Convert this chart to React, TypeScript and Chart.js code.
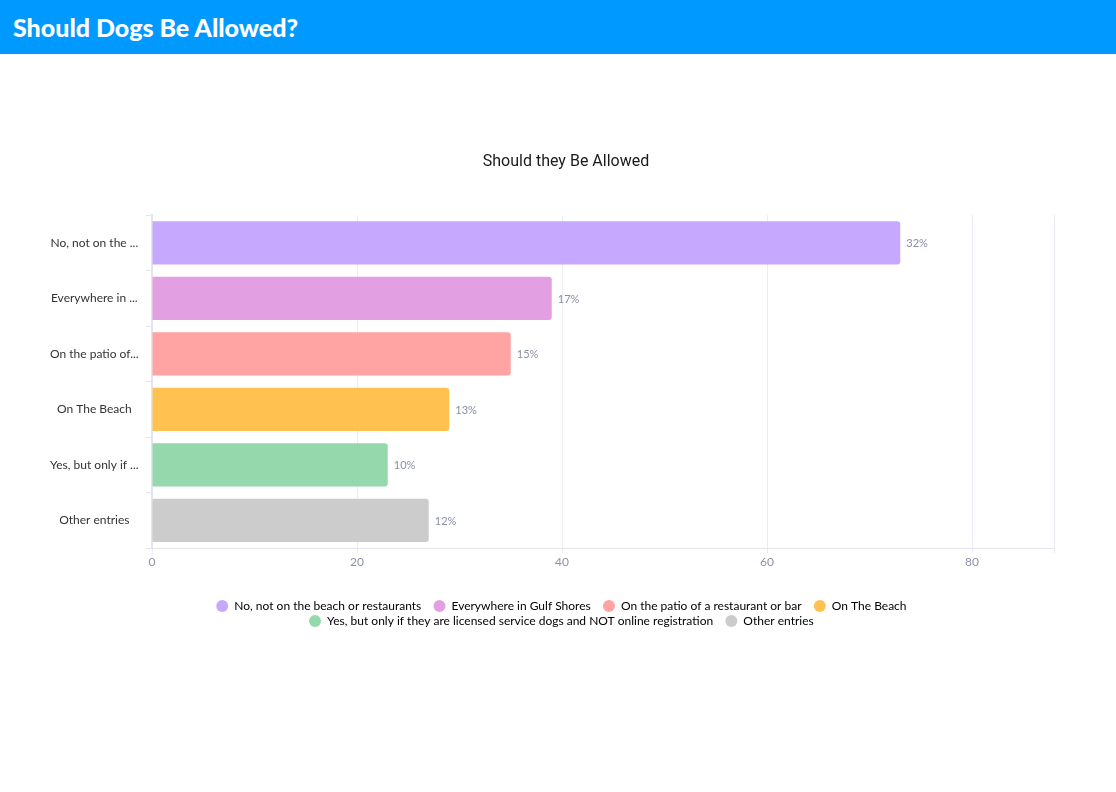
import { useEffect, useRef } from "react";
import { Chart, registerables } from "chart.js";

Chart.register(...registerables);

// data
const categories: string[] = [
    "No, not on the beach or restaurants",
    "Everywhere in Gulf Shores",
    "On the patio of a restaurant or bar",
    "On The Beach",
    "Yes, but only if they are licensed service dogs and NOT online registration",
    "Other entries",
];
const shortLabels: string[] = [
    "No, not on the ...",
    "Everywhere in ...",
    "On the patio of...",
    "On The Beach",
    "Yes, but only if ...",
    "Other entries",
];
const counts: number[] = [73, 39, 35, 29, 23, 27];
const percentLabels: string[] = ["32%", "17%", "15%", "13%", "10%", "12%"];
const barColors: string[] = ["#c6a9fe", "#e2a0e3", "#ffa3a3", "#ffc14f", "#94d8ac", "#cccccc"];
const xTicks: number[] = [0, 20, 40, 60, 80, 88];

const FONT = "Lato, 'Noto Sans', sans-serif";

// draws the "32%" style labels next to each bar
const barValueLabels = {
    id: "barValueLabels",
    afterDatasetsDraw(chart: Chart) {
        const ctx = chart.ctx;
        const meta = chart.getDatasetMeta(0);
        ctx.save();
        ctx.font = `11px ${FONT}`;
        ctx.fillStyle = "#8a8fa4";
        ctx.textAlign = "left";
        ctx.textBaseline = "middle";
        meta.data.forEach((bar: any, i: number) => {
            ctx.fillText(percentLabels[i], bar.x + 6, bar.y + 1);
        });
        ctx.restore();
    },
};

export default function App() {
    const canvasRef = useRef<HTMLCanvasElement | null>(null);

    useEffect(() => {
        document.body.style.margin = "0";
        const ctx = canvasRef.current?.getContext("2d");
        if (!ctx) return;

        const chart = new Chart(ctx, {
            type: "bar",
            data: {
                labels: shortLabels,
                datasets: [
                    {
                        data: counts,
                        backgroundColor: barColors,
                        borderRadius: 3,
                        barPercentage: 0.78,
                        categoryPercentage: 1,
                    },
                ],
            },
            options: {
                indexAxis: "y",
                animation: false,
                responsive: true,
                maintainAspectRatio: false,
                layout: { padding: { left: 78, right: 62, top: 0, bottom: 155 } },
                scales: {
                    x: {
                        min: 0,
                        max: 88,
                        afterBuildTicks: (scale: any) => {
                            scale.ticks = xTicks.map((v) => ({ value: v }));
                        },
                        afterFit: (scale: any) => {
                            scale.height = 49;
                        },
                        ticks: {
                            color: "#8c93a7",
                            font: { family: FONT, size: 12 },
                            padding: 2,
                            callback: (v: any) => (Number(v) % 20 === 0 ? String(v) : ""),
                        },
                        grid: { color: "#ebebf1", tickLength: 5 },
                        border: { color: "#e4e4ec" },
                    },
                    y: {
                        afterFit: (scale: any) => {
                            scale.width = 74;
                        },
                        ticks: {
                            color: "#333333",
                            font: { family: FONT, size: 12 },
                            crossAlign: "center",
                            // mirrored with a negative padding so the labels sit left of the axis unclipped
                            mirror: true,
                            padding: -102,
                        },
                        grid: { drawOnChartArea: false, color: "#e4e4ec", tickLength: 6 },
                        border: { color: "#e4e4ec", width: 2 },
                    },
                },
                plugins: {
                    title: {
                        display: true,
                        text: "Should they Be Allowed",
                        color: "#1a1a1a",
                        font: { family: "Roboto, sans-serif", size: 16, weight: "normal" },
                        padding: { top: 98, bottom: 44 },
                    },
                    legend: {
                        position: "bottom",
                        labels: {
                            usePointStyle: true,
                            pointStyle: "circle",
                            pointStyleWidth: 12,
                            boxHeight: 8.5,
                            padding: 3,
                            color: "#333333",
                            font: { family: FONT, size: 12 },
                            generateLabels: () =>
                                categories.map((c, i) => ({
                                    text: c + "   ",
                                    fillStyle: barColors[i],
                                    strokeStyle: barColors[i],
                                    lineWidth: 0,
                                    pointStyle: "circle",
                                    hidden: false,
                                    index: i,
                                    datasetIndex: 0,
                                })),
                        },
                    },
                    tooltip: { enabled: false },
                },
            },
            plugins: [barValueLabels],
        });

        return () => {
            chart.destroy();
        };
    }, []);

    return (
        <div style={{ width: 1116, fontFamily: FONT }}>
            <div
                style={{
                    height: 54,
                    background: "#0099ff",
                    color: "#ffffff",
                    display: "flex",
                    alignItems: "center",
                    paddingLeft: 13,
                    fontSize: 25,
                    fontWeight: 900,
                    fontFamily: FONT,
                }}
            >
                Should Dogs Be Allowed?
            </div>
            <div style={{ position: "relative", width: 1116, height: 738 }}>
                <canvas ref={canvasRef} />
            </div>
        </div>
    );
}
